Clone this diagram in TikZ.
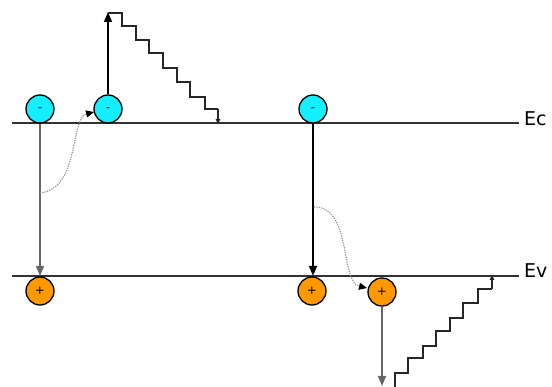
\documentclass[tikz,border=0pt]{standalone}
\usepackage{fontspec}
\setmainfont{DejaVu Sans}
\usetikzlibrary{arrows.meta}
\definecolor{ecyan}{RGB}{20,238,255}
\definecolor{horange}{RGB}{255,153,0}
\definecolor{bandgray}{RGB}{50,50,50}
\begin{document}
\begin{tikzpicture}[x=1pt,y=-1pt,
  carrier/.style={circle,draw=black,line width=1.3pt,minimum size=28pt,inner sep=0pt,font=\fontsize{12}{12}\selectfont},
  electron/.style={carrier,fill=ecyan},
  hole/.style={carrier,fill=horange},
  band/.style={draw=bandgray,line width=1.5pt},
  lbl/.style={anchor=west,inner sep=0pt,font=\fontsize{19}{19}\selectfont},
  bigtip/.style={-{Triangle[length=10pt,width=8pt]}},
  smalltip/.style={-{Triangle[length=5pt,width=4.5pt]}},
  trans/.style={line width=1.5pt,bigtip},
  stairs/.style={draw=black!85,line width=1.3pt},
  hop/.style={draw=black!45,line width=1.1pt,dash pattern=on 1.2pt off 1.2pt,-{Triangle[length=8pt,width=7pt,color=black]}}
]
\useasboundingbox (0,0) rectangle (552,387);

% band edges
\coordinate (ecL) at (12,123);
\coordinate (ecR) at (519,123);
\coordinate (evL) at (12,276);
\coordinate (evR) at (519,276);
\draw[band] (ecL) -- (ecR);
\draw[band] (evL) -- (evR);
\node[lbl] (Ec) at (524,119) {Ec};
\node[lbl] (Ev) at (524,271) {Ev};

% carriers
\node[electron] (e1) at (40,109) {\raisebox{-6pt}{-}};
\node[electron] (e2) at (108,109) {\raisebox{-6pt}{-}};
\node[electron] (e3) at (313,109) {\raisebox{-6pt}{-}};
\node[hole] (h1) at (40,291) {\raisebox{-3pt}{+}};
\node[hole] (h2) at (312,291) {\raisebox{-3pt}{+}};
\node[hole] (h3) at (382,292) {\raisebox{-3pt}{+}};

% coordinates
\coordinate (t1) at (40,276);
\coordinate (top2) at (108,12);
\coordinate (ec2) at (218,124);
\coordinate (t3) at (313,276);
\coordinate (bot3) at (382,386);
\coordinate (sb) at (395,388);
\coordinate (ev3) at (492,275);
\coordinate (s1) at (40,193);
\coordinate (s2) at (314,207);

% vertical transitions
\draw[trans,draw=black!60] (e1.south) -- (t1);
\draw[trans,draw=black] (e2.north) -- (top2);
\draw[trans,draw=black] (e3.south) -- (t3);
\draw[trans,draw=black!60] (h3.south) -- (bot3);

% staircase relaxation of hot electron
\draw[stairs] (108,13) -- ++(14,0) -- ++(0,13) -- ++(14,0) -- ++(0,14) -- ++(13,0) -- ++(0,13)
  -- ++(14,0) -- ++(0,15) -- ++(14,0) -- ++(0,14) -- ++(13,0) -- ++(0,15) -- ++(15,0)
  -- ++(0,12) -- (218,109);
\draw[stairs,smalltip] (218,109) -- (ec2);

% staircase relaxation of hot hole
\draw[stairs] (sb) -- ++(0,-15) -- ++(13,0) -- ++(0,-15) -- ++(15,0) -- ++(0,-12) -- ++(13,0)
  -- ++(0,-15) -- ++(14,0) -- ++(0,-13) -- ++(13,0) -- ++(0,-15) -- ++(15,0) -- ++(0,-14)
  -- (492,289);
\draw[stairs,smalltip] (492,289) -- (ev3);

% energy transfer (dotted)
\draw[hop] (s1) .. controls (80,189) and (70,118) .. (94,112);
\draw[hop] (s2) .. controls (352,206) and (340,282) .. (367,288);
\end{tikzpicture}
\end{document}
